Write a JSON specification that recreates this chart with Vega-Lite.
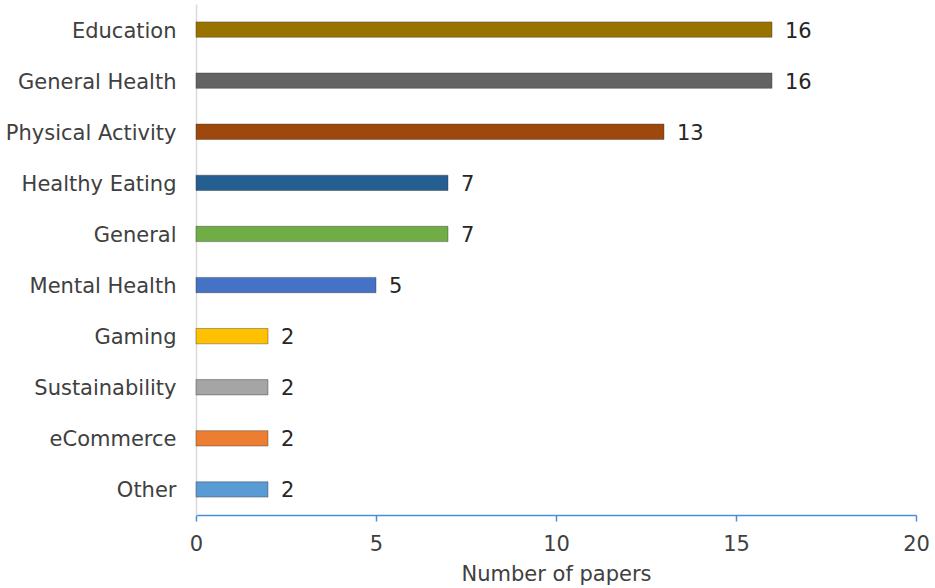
{
  "$schema": "https://vega.github.io/schema/vega-lite/v6.json",
  "autosize": {"type": "none"},
  "width": 720,
  "height": 511,
  "padding": {"left": 196, "top": 4, "right": 19, "bottom": 73},
  "background": "white",
  "config": {"view": {"stroke": null}, "font": "DejaVu Sans"},
  "data": {"values": [
    {"topic": "Education", "papers": 16, "color": "#997300"},
    {"topic": "General Health", "papers": 16, "color": "#636363"},
    {"topic": "Physical Activity", "papers": 13, "color": "#9E480E"},
    {"topic": "Healthy Eating", "papers": 7, "color": "#255E91"},
    {"topic": "General", "papers": 7, "color": "#70AD47"},
    {"topic": "Mental Health", "papers": 5, "color": "#4472C4"},
    {"topic": "Gaming", "papers": 2, "color": "#FFC000"},
    {"topic": "Sustainability", "papers": 2, "color": "#A5A5A5"},
    {"topic": "eCommerce", "papers": 2, "color": "#ED7D31"},
    {"topic": "Other", "papers": 2, "color": "#5B9BD5"}
  ]},
  "encoding": {
    "y": {"field": "topic", "type": "nominal", "sort": null,
      "scale": {"paddingInner": 0.7, "paddingOuter": 0.35},
      "axis": {"title": null, "domainColor": "#D9D9D9", "domainWidth": 1.5, "ticks": false,
        "labelFontSize": 21, "labelColor": "#404040", "labelPadding": 20, "labelOffset": 2}},
    "x": {"field": "papers", "type": "quantitative",
      "scale": {"domain": [0, 20]},
      "axis": {"title": "Number of papers", "titleFontSize": 21, "titleFontWeight": "normal", "titleColor": "#404040",
        "titlePadding": 9, "values": [0, 5, 10, 15, 20], "grid": false, "labelFlush": false, "labelOverlap": false,
        "domainColor": "#4A8FD6", "domainWidth": 1.5, "tickColor": "#4A8FD6", "tickWidth": 1.5, "tickSize": 6,
        "labelFontSize": 21, "labelColor": "#404040", "labelPadding": 12}}
  },
  "layer": [
    {"mark": {"type": "bar", "strokeWidth": 1, "strokeOpacity": 0.4, "stroke": "#333333"},
      "encoding": {"color": {"field": "color", "type": "nominal", "scale": null, "legend": null}}},
    {"mark": {"type": "text", "align": "left", "dx": 13, "dy": 2, "fontSize": 21, "color": "#262626"},
      "encoding": {"text": {"field": "papers", "type": "quantitative"}}}
  ]
}
